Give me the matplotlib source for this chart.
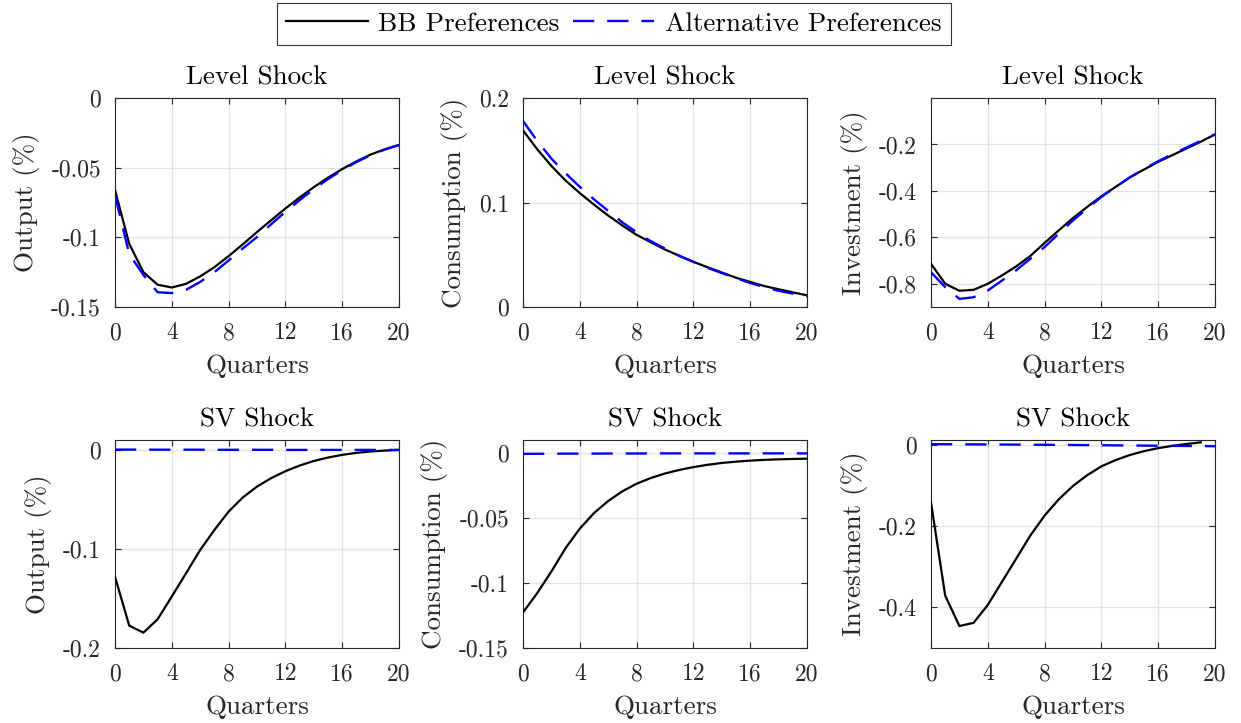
import matplotlib
matplotlib.use("Agg")
import matplotlib.pyplot as plt
from matplotlib.lines import Line2D

plt.rcParams['font.family'] = ['cmr10', 'DejaVu Serif']
plt.rcParams['mathtext.fontset'] = 'cm'
plt.rcParams['axes.unicode_minus'] = False
plt.rcParams['axes.formatter.use_mathtext'] = True

quarters = list(range(21))

# Level shock
out_lvl_bb = [-0.0661, -0.1046, -0.125, -0.134, -0.136, -0.1334, -0.128, -0.1214, -0.1135, -0.105,
              -0.0962, -0.0877, -0.0793, -0.0714, -0.0640, -0.0572, -0.0510, -0.0455, -0.0406, -0.0368, -0.0337]
out_lvl_alt = [-0.0697, -0.112, -0.127, -0.1394, -0.140, -0.1377, -0.132, -0.125, -0.1166, -0.108,
               -0.0998, -0.0906, -0.0817, -0.0733, -0.0654, -0.0582, -0.0517, -0.0460, -0.0410, -0.0370, -0.0337]
con_lvl_bb = [0.169, 0.151, 0.135, 0.121, 0.109, 0.098, 0.0875, 0.078, 0.069, 0.062,
              0.055, 0.049, 0.0432, 0.038, 0.033, 0.028, 0.024, 0.020, 0.017, 0.014, 0.0112]
con_lvl_alt = [0.178, 0.159, 0.142, 0.128, 0.115, 0.103, 0.092, 0.081, 0.0715, 0.063,
               0.056, 0.049, 0.0432, 0.0375, 0.0325, 0.0275, 0.023, 0.019, 0.0155, 0.0128, 0.0102]
inv_lvl_bb = [-0.714, -0.800, -0.830, -0.826, -0.800, -0.764, -0.725, -0.680, -0.624, -0.570,
              -0.517, -0.469, -0.423, -0.383, -0.342, -0.308, -0.275, -0.246, -0.217, -0.188, -0.157]
inv_lvl_alt = [-0.750, -0.815, -0.865, -0.858, -0.829, -0.786, -0.742, -0.692, -0.642, -0.584,
               -0.527, -0.476, -0.426, -0.383, -0.342, -0.306, -0.272, -0.242, -0.213, -0.184, -0.157]

# SV shock
out_sv_bb = [-0.128, -0.1774, -0.1845, -0.171, -0.148, -0.1246, -0.101, -0.0808, -0.0623, -0.0480,
             -0.0370, -0.0285, -0.0215, -0.0158, -0.0112, -0.0077, -0.0050, -0.0030, -0.0016, -0.0007, 0.0]
out_sv_alt = [0.0003, 0.0003, 0.0003, 0.0002, 0.0002, 0.0002, 0.0002, 0.0001, 0.0001, 0.0001,
              0.0001, 0.0001, 0.0, 0.0, 0.0, 0.0, 0.0, 0.0, 0.0, 0.0, 0.0]
con_sv_bb = [-0.1226, -0.1077, -0.091, -0.073, -0.0580, -0.0460, -0.0367, -0.0292, -0.0234, -0.0190,
             -0.0155, -0.0128, -0.0106, -0.0088, -0.0074, -0.0064, -0.0056, -0.0050, -0.0046, -0.0043, -0.0041]
con_sv_alt = [-0.0004, -0.0003, -0.0003, -0.0002, -0.0002, -0.0002, -0.0001, -0.0001, -0.0001, 0.0,
              0.0, 0.0, 0.0, 0.0, 0.0, 0.0, 0.0, 0.0, 0.0, 0.0, 0.0]
inv_sv_bb = [-0.142, -0.371, -0.446, -0.438, -0.394, -0.337, -0.280, -0.223, -0.174, -0.134,
             -0.101, -0.0747, -0.0528, -0.0375, -0.0250, -0.0155, -0.0080, -0.0025, 0.0022, 0.0062]
inv_sv_alt = [0.0018, 0.0016, 0.0014, 0.0012, 0.0010, 0.0008, 0.0006, 0.0004, 0.0002, 0.0,
              -0.0003, -0.0006, -0.0009, -0.0012, -0.0015, -0.0018, -0.0021, -0.0024, -0.0027, -0.003, -0.0033]

ylabels = ['Output (%)', 'Consumption (%)', 'Investment (%)']
titles = ['Level Shock', 'SV Shock']
xticks = [0, 4, 8, 12, 16, 20]

panels = [
    (0, 0, out_lvl_bb, out_lvl_alt, (-0.15, 0.0), [-0.15, -0.1, -0.05, 0], ['-0.15', '-0.1', '-0.05', '0']),
    (0, 1, con_lvl_bb, con_lvl_alt, (0.0, 0.2), [0, 0.1, 0.2], ['0', '0.1', '0.2']),
    (0, 2, inv_lvl_bb, inv_lvl_alt, (-0.9, 0.0), [-0.8, -0.6, -0.4, -0.2], ['-0.8', '-0.6', '-0.4', '-0.2']),
    (1, 0, out_sv_bb, out_sv_alt, (-0.2, 0.01), [-0.2, -0.1, 0], ['-0.2', '-0.1', '0']),
    (1, 1, con_sv_bb, con_sv_alt, (-0.15, 0.0103), [-0.15, -0.1, -0.05, 0], ['-0.15', '-0.1', '-0.05', '0']),
    (1, 2, inv_sv_bb, inv_sv_alt, (-0.5, 0.012), [-0.4, -0.2, 0], ['-0.4', '-0.2', '0']),
]

W, H = 1241, 723
fig = plt.figure(figsize=(W / 100, H / 100), dpi=100)
lefts = [115, 523, 931]
rows = [(98, 307), (440, 648)]
fs_lab = 19.5
fs_tick = 17
tcol = '#262626'
dash = (9, 5.5)

for r, c, bb, alt, ylim, yt, ytl in panels:
    top, bot = rows[r]
    ax = fig.add_axes([lefts[c] / W, (H - bot) / H, 284 / W, (bot - top) / H])
    ax.plot(quarters[:len(bb)], bb, color='black', lw=1.6, zorder=3)
    ax.plot(quarters[:len(alt)], alt, color='blue', lw=1.7, dashes=dash, zorder=4)
    ax.set_xlim(0, 20)
    ax.set_ylim(*ylim)
    ax.set_xticks(xticks)
    ax.set_xticklabels([str(t) for t in xticks])
    ax.set_yticks(yt)
    ax.set_yticklabels(ytl)
    ax.grid(True, color='#e3e3e3', lw=0.9)
    ax.set_axisbelow(True)
    ax.tick_params(direction='in', top=True, right=True, length=4, width=0.8,
                   labelsize=fs_tick, colors=tcol)
    ax.tick_params(axis='x', pad=11)
    ax.tick_params(axis='y', pad=10)
    for s in ax.spines.values():
        s.set_color(tcol)
        s.set_linewidth(0.8)
    ax.set_title(titles[r], fontsize=fs_lab, color='black', pad=10)
    ax.set_xlabel('Quarters', fontsize=fs_lab, color=tcol, labelpad=7)
    ax.set_ylabel(ylabels[c], fontsize=fs_lab, color=tcol, labelpad=8)

handles = [Line2D([], [], color='black', lw=1.6),
           Line2D([], [], color='blue', lw=1.7, dashes=dash)]
leg = fig.legend(handles, ['BB Preferences', 'Alternative Preferences'], loc='upper center',
                 bbox_to_anchor=(614 / W, 1 + 11 / H), ncol=2, fontsize=fs_lab, frameon=True,
                 fancybox=False, edgecolor='black', handlelength=3, columnspacing=0.5,
                 handletextpad=0.4, borderpad=0.35)
leg.get_frame().set_linewidth(0.8)

fig.savefig('out.png', dpi=100)
